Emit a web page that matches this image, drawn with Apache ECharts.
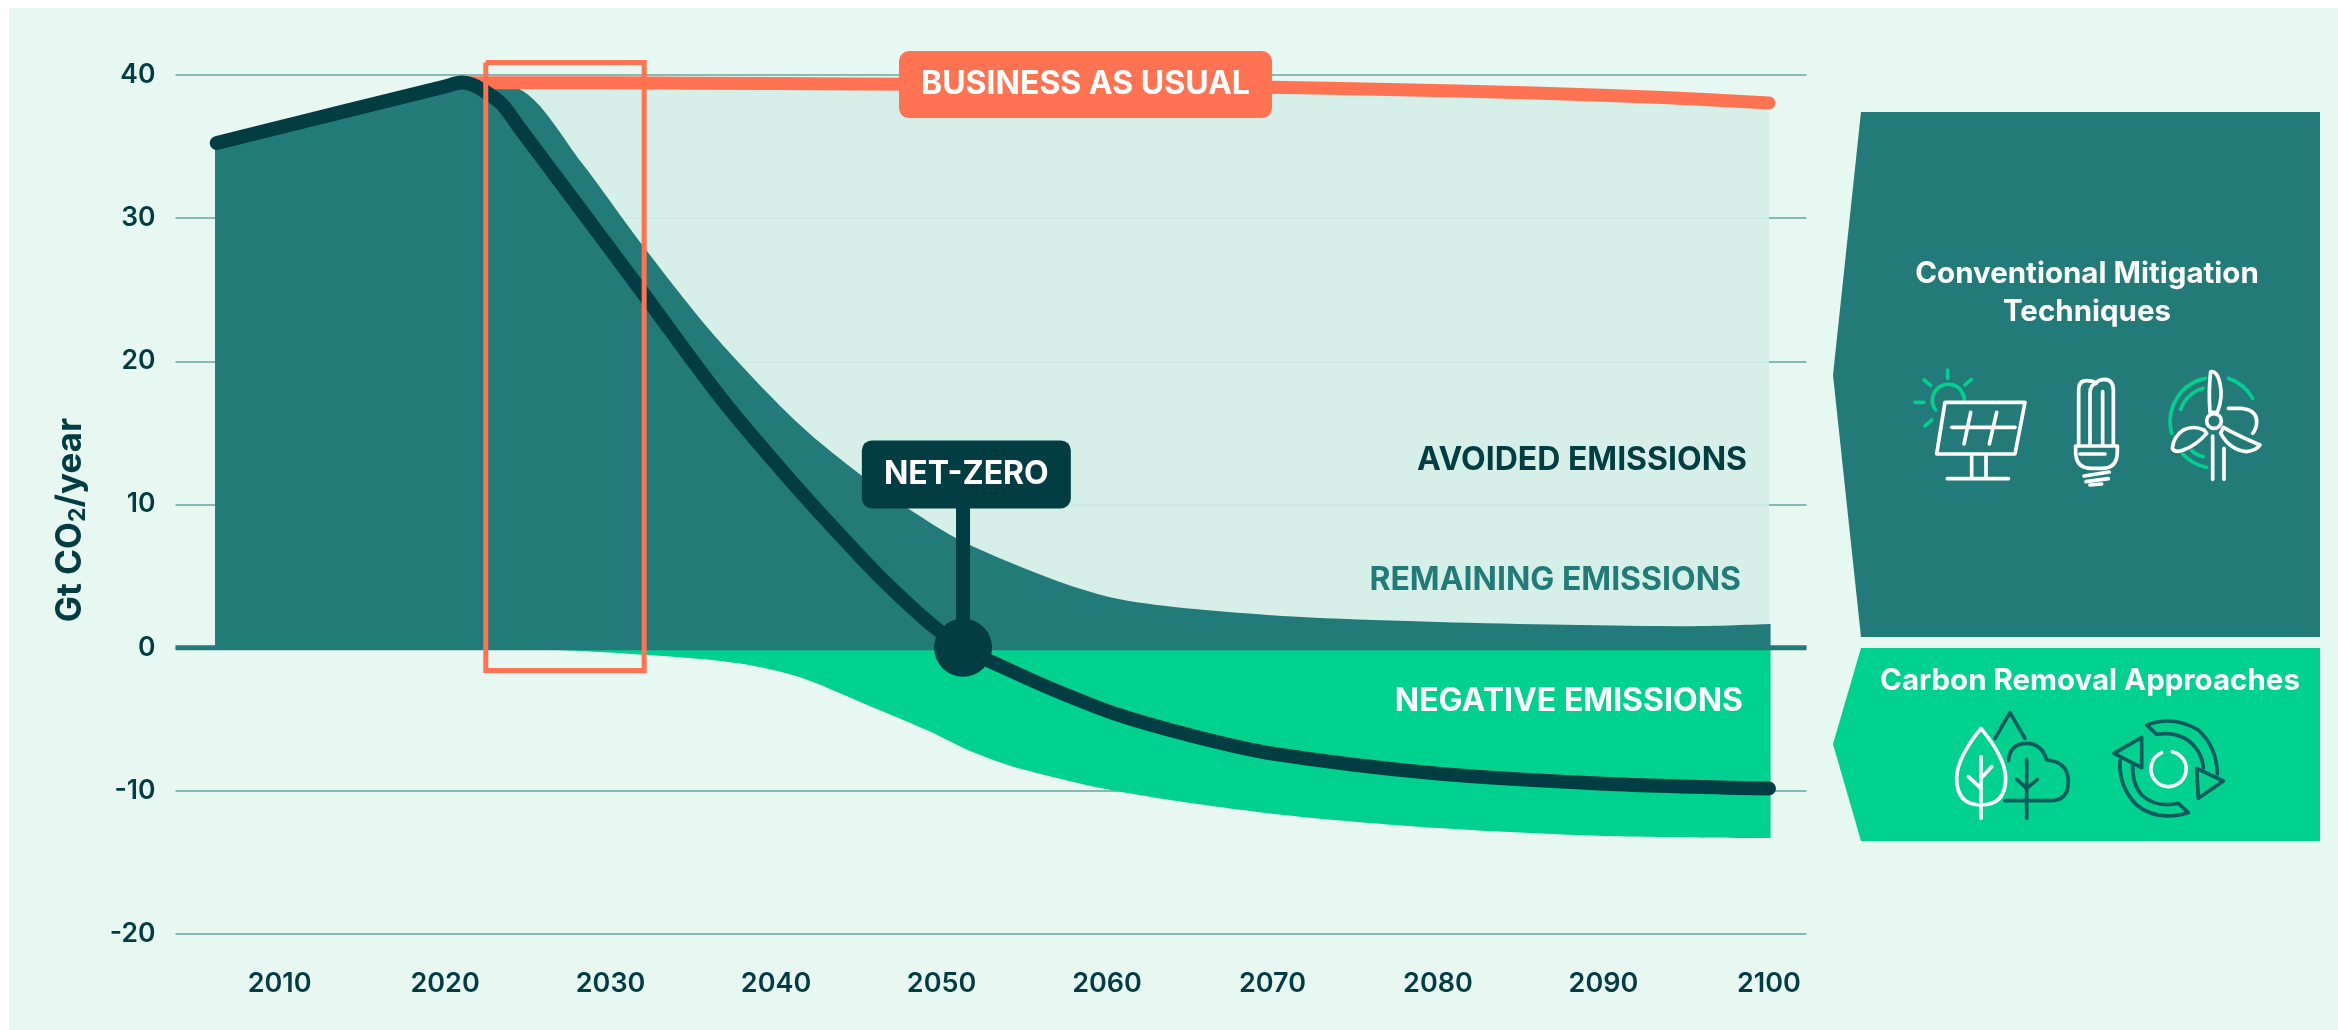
<!DOCTYPE html>
<html>
<head>
<meta charset="utf-8">
<title>Emissions pathways</title>
<script src="https://cdn.jsdelivr.net/npm/echarts@6/dist/echarts.min.js"></script>
<style>
  html, body { margin: 0; background: #fff; overflow: hidden; }
  #panel { position: absolute; left: 9px; top: 8px; width: 2329px; height: 1022px; background: #e7f7f2; }
  #main { position: absolute; left: 0; top: 0; width: 2338px; height: 1030px; }
</style>
</head>
<body>
<div id="panel"></div>
<div id="main"></div>
<script>
// values, [year, Gt CO2/year]
var xTicks = [2010, 2020, 2030, 2040, 2050, 2060, 2070, 2080, 2090, 2100];
var businessAsUsual = [[2021.5, 39.46], [2030, 39.45], [2040, 39.4], [2050, 39.35], [2060, 39.27], [2069.9, 39.15], [2077, 38.98], [2085.3, 38.76], [2093.6, 38.43], [2100, 38.05]];
var remaining = [[2006.1, 35.25], [2020, 39.2], [2021, 39.47], [2022, 39.3], [2024.5, 39.0], [2028.3, 33.8], [2031.8, 28.3], [2036.2, 21.9], [2041.4, 15.6], [2045.3, 11.9], [2048, 9.7], [2051.3, 7.4], [2056.9, 4.7], [2060.7, 3.4], [2065.3, 2.7], [2072.3, 2.1], [2080, 1.8], [2087.7, 1.6], [2095.4, 1.5], [2100.1, 1.65]];
var negative = [[2022.4, 0], [2025.5, -0.1], [2032, -0.5], [2037.8, -1.1], [2041.4, -2.05], [2045.3, -3.9], [2049.2, -5.8], [2051.8, -7.25], [2054.9, -8.5], [2060.7, -10.05], [2070, -11.6], [2080, -12.6], [2090, -13.15], [2100.1, -13.3]];
var netEmissions = [[2006.2, 35.25], [2020, 39.2], [2021, 39.47], [2021.6, 39.35], [2022.2, 39.0], [2023.4, 38.0], [2024.5, 36.3], [2028, 30.9], [2032, 24.7], [2036.7, 17.4], [2041.4, 11.0], [2045.3, 6.1], [2047.2, 3.9], [2049.5, 1.5], [2051.3, 0], [2053.7, -1.35], [2056.9, -3.0], [2060.7, -4.7], [2065.3, -6.2], [2070, -7.4], [2080, -8.8], [2090, -9.5], [2100, -9.84]];
var zeroLine = [[2003.71, 0], [2102.27, 0]];
var netZeroPoint = [[2051.3, 0]];
var netZeroStem = [[2051.3, 0], [2051.3, 11.9]];
var netZeroLabelPoint = [[2051.5, 12.1]];
var businessLabelPoint = [[2058.7, 39.33]];
var highlightBox = [[2022.46, 40.87], [2032.03, 40.87], [2032.03, -1.6], [2022.46, -1.6], [2022.46, 40.87]];

var FONT = 'Inter';
var INK = '#023d44';
var TEAL = '#227b78';
var GREEN = '#00d18f';
var LIGHT = 'rgba(212,238,231,0.93)';
var ORANGE = '#ff7352';
var ICON_DARK = '#0b5a5e';

function lineSeries(name, data, color, width, z, extra) {
  var s = {
    name: name,
    type: 'line',
    data: data,
    showSymbol: false,
    symbol: 'none',
    clip: false,
    z: z,
    silent: true,
    lineStyle: { color: color, width: width, cap: 'round', join: 'round' }
  };
  for (var k in extra) { s[k] = extra[k]; }
  return s;
}

function tag(name, data, text, bg, w, h, z) {
  return {
    name: name,
    type: 'scatter',
    data: data,
    symbolSize: 1,
    itemStyle: { color: 'transparent', opacity: 1 },
    clip: false,
    z: z,
    silent: true,
    label: {
      show: true,
      position: 'inside',
      formatter: text,
      color: '#fff',
      fontFamily: FONT,
      fontWeight: 700,
      fontSize: 32,
      width: w,
      height: h,
      lineHeight: h,
      align: 'center',
      verticalAlign: 'middle',
      backgroundColor: bg,
      borderRadius: 10
    }
  };
}

// the graphic component has no plain path type, so each svg path gets its own shape
var shapeCount = 0;
function strokes(paths, color, width) {
  return paths.map(function (d) {
    var shapeName = 'iconPath' + (shapeCount++);
    echarts.graphic.registerShape(shapeName, echarts.graphic.extendPath(d));
    return {
      type: shapeName,
      style: { fill: 'none', stroke: color, lineWidth: width, lineCap: 'round', lineJoin: 'round' }
    };
  });
}

// icons are traced at 3x, so the groups scale them back down
function icon(x, y, children) {
  return { type: 'group', x: x, y: y, scaleX: 1 / 3, scaleY: 1 / 3, children: children };
}

function label(text, x, y, color, size, align) {
  return {
    type: 'text',
    x: x,
    y: y,
    z: 50,
    style: {
      text: text, fill: color, align: align, verticalAlign: 'middle',
      fontFamily: FONT, fontWeight: 700, fontSize: size
    }
  };
}

var solarWhite = [
  'M135 157 L375 157 L345 312 L110 312 Z',
  'M155 232 L345 232', 'M212 187 L192 282', 'M290 187 L268 282',
  'M215 320 V380', 'M258 320 V380', 'M142 386 H325'
];
var solarGreen = [
  'M107 180 A48 48 0 1 1 193 148',
  'M143 60 V85', 'M72 90 L92 106', 'M214 88 L195 105', 'M45 157 H72', 'M75 228 L95 210'
];
var bulbWhite = [
  'M56 285 V120 Q56 92 80 92 Q100 92 108 100 Q115 88 135 88 Q160 90 160 120 V285',
  'M90 285 V130 Q90 105 108 100', 'M128 125 V285',
  'M47 288 H172 V305 Q172 355 125 355 H95 Q47 355 47 305 Z',
  'M60 312 H135', 'M72 378 L148 366', 'M78 395 L145 386', 'M90 405 L125 402'
];
var turbineWhite = [
  'M452 65 Q470 60 480 100 Q490 140 472 187 L450 187 Q445 120 452 65 Z',
  'M432 240 Q400 225 370 240 Q340 260 337 295 Q345 310 370 300 Q410 285 440 250 Z',
  'M490 232 Q530 255 600 285 Q590 300 560 305 Q510 300 482 250 Z',
  'M484 213 A22 22 0 1 1 440 213 A22 22 0 1 1 484 213 Z',
  'M458 258 V388', 'M492 295 V388',
  'M505 175 H545 Q590 180 590 215 Q590 235 578 250'
];
var turbineGreen = [
  'M437 85 A132 132 0 0 0 335 250', 'M368 312 A135 135 0 0 0 440 352',
  'M505 85 A135 135 0 0 1 578 145', 'M430 115 A100 100 0 0 0 362 178', 'M395 302 Q410 316 430 320'
];
var treeWhite = [
  'M123 85 Q50 175 50 235 Q50 315 123 315 Q197 315 197 235 Q197 175 123 85 Z',
  'M123 170 V355', 'M85 230 L123 265', 'M155 200 L123 235',
  'M697 155 A53 53 0 1 1 665 158'
];
var treeDark = [
  'M165 115 L210 38 L255 115',
  'M205 182 Q210 130 260 130 Q305 130 320 180 Q385 185 385 245 Q385 302 330 302 H195',
  'M260 178 V355', 'M230 238 L260 265', 'M292 238 L260 265',
  'M620 75 Q700 45 775 90 Q830 140 832 222', 'M790 203 Q785 150 740 118 Q700 95 650 103 L620 75',
  'M770 205 L850 243 L775 295 Z', 'M605 112 L522 160 L605 203 Z',
  'M540 180 Q535 260 590 315 Q650 365 745 338 L715 310 Q650 325 605 285 Q575 250 578 190'
];

var graphics = [
  { type: 'polygon', shape: { points: [[1861, 112], [2320, 112], [2320, 637], [1861, 637], [1833, 375]] }, style: { fill: TEAL } },
  { type: 'polygon', shape: { points: [[1861, 648], [2320, 648], [2320, 841], [1861, 841], [1833, 744]] }, style: { fill: GREEN } },
  label('Conventional Mitigation', 2087, 274, '#fff', 29.5, 'center'),
  label('Techniques', 2087, 312, '#fff', 29.5, 'center'),
  label('Carbon Removal Approaches', 2090, 681, '#fff', 29.5, 'center'),
  label('AVOIDED EMISSIONS', 1747, 460, INK, 32, 'right'),
  label('REMAINING EMISSIONS', 1741, 580, TEAL, 32, 'right'),
  label('NEGATIVE EMISSIONS', 1743, 701, '#fff', 32, 'right'),
  {
    type: 'text',
    x: 70,
    y: 520,
    rotation: Math.PI / 2,
    style: {
      text: 'Gt CO{sub|2}/year',
      fill: INK,
      align: 'center',
      verticalAlign: 'middle',
      fontFamily: FONT,
      fontWeight: 700,
      fontSize: 35,
      lineHeight: 40,
      rich: {
        sub: { fontFamily: FONT, fontWeight: 700, fontSize: 23, lineHeight: 40, verticalAlign: 'bottom', fill: INK }
      }
    }
  },
  icon(1900, 350, strokes(solarGreen, GREEN, 11).concat(strokes(solarWhite, '#fff', 11))),
  icon(2060, 350, strokes(bulbWhite, '#fff', 11).concat(strokes(turbineGreen, GREEN, 11), strokes(turbineWhite, '#fff', 11))),
  icon(1940, 700, strokes(treeDark, ICON_DARK, 11).concat(strokes(treeWhite, '#fff', 11)))
];

var myChart = echarts.init(document.getElementById('main'));

var option = {
  animation: false,
  backgroundColor: 'transparent',
  textStyle: { fontFamily: FONT },
  grid: { left: 175.5, right: 531.5, top: 75, height: 859 },
  xAxis: {
    type: 'value',
    min: 2003.71,
    max: 2102.27,
    axisLine: { show: false },
    axisTick: { show: false },
    splitLine: { show: false },
    axisLabel: {
      customValues: xTicks,
      formatter: function (v) { return String(v); },
      margin: 36,
      color: INK,
      fontFamily: FONT,
      fontWeight: 600,
      fontSize: 27
    }
  },
  yAxis: {
    type: 'value',
    min: -20,
    max: 40,
    interval: 10,
    axisLine: { show: false },
    axisTick: { show: false },
    splitLine: { lineStyle: { color: '#86bab3', width: 2 } },
    axisLabel: {
      margin: 20,
      color: INK,
      fontFamily: FONT,
      fontWeight: 600,
      fontSize: 26.5,
      padding: [5, 0, 0, 0]
    }
  },
  graphic: graphics,
  series: [
    lineSeries('Avoided emissions', businessAsUsual, 'transparent', 0, 2, { areaStyle: { color: LIGHT, opacity: 1 } }),
    lineSeries('Remaining emissions', remaining, 'transparent', 0, 3, { smooth: 0.3, areaStyle: { color: TEAL, opacity: 1 } }),
    lineSeries('Negative emissions', negative, 'transparent', 0, 3, { smooth: 0.3, areaStyle: { color: GREEN, opacity: 1 } }),
    lineSeries('Zero', zeroLine, TEAL, 5, 4, { lineStyle: { color: TEAL, width: 5, cap: 'butt' } }),
    lineSeries('Business as usual', businessAsUsual, ORANGE, 13, 5, { smooth: 0.3 }),
    lineSeries('Net emissions', netEmissions, INK, 14, 6, { smooth: 0.3 }),
    lineSeries('Highlight', highlightBox, ORANGE, 5, 7, { lineStyle: { color: ORANGE, width: 5, join: 'miter' } }),
    lineSeries('Net-zero stem', netZeroStem, INK, 14, 8, { lineStyle: { color: INK, width: 14, cap: 'butt' } }),
    {
      name: 'Net-zero',
      type: 'scatter',
      data: netZeroPoint,
      symbol: 'circle',
      symbolSize: 58,
      itemStyle: { color: INK, opacity: 1 },
      z: 9,
      silent: true
    },
    tag('Net-zero label', netZeroLabelPoint, 'NET-ZERO', INK, 209, 68, 10),
    tag('Business label', businessLabelPoint, 'BUSINESS AS USUAL', ORANGE, 373, 67, 10)
  ]
};

myChart.setOption(option);
window.onresize = myChart.resize;
</script>
</body>
</html>
